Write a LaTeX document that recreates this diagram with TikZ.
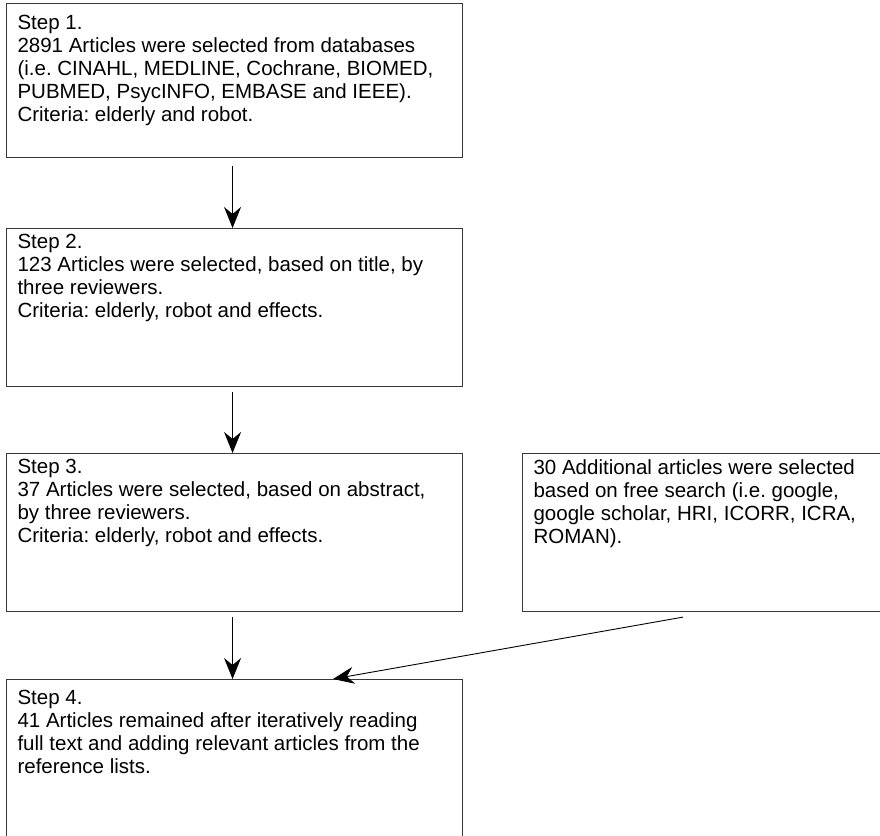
\documentclass[tikz,border=0pt]{standalone}
\usepackage{fontspec}
\setmainfont{Liberation Sans}
\frenchspacing
\usetikzlibrary{arrows.meta,calc}
\begin{document}
\begin{tikzpicture}[x=1pt,y=-1pt,
  box/.style={draw=black!78,line width=1.1pt,inner xsep=11pt,anchor=north west,
    font=\fontsize{20.5pt}{23pt}\selectfont},
  arr/.style={draw=black,line width=0.9pt,-{Stealth[length=21pt,width=17pt,inset=7pt]}}]
\useasboundingbox (0,0) rectangle (880,835);
\node[box,inner ysep=12pt] (b1) at (6,3) {\begin{minipage}[t][130pt][t]{434pt}\frenchspacing Step 1.\\
2891 Articles were selected from databases\\
(i.e. CINAHL, MEDLINE, Cochrane, BIOMED,\\
PUBMED, PsycINFO, EMBASE and IEEE).\\
Criteria: elderly and robot.\end{minipage}};
\node[box,inner ysep=6pt] (b2) at (6,228) {\begin{minipage}[t][146pt][t]{434pt}\frenchspacing Step 2.\\
123 Articles were selected, based on title, by\\
three reviewers.\\
Criteria: elderly, robot and effects.\end{minipage}};
\node[box,inner ysep=6pt] (b3) at (6,453) {\begin{minipage}[t][146pt][t]{434pt}\frenchspacing Step 3.\\
37 Articles were selected, based on abstract,\\
by three reviewers.\\
Criteria: elderly, robot and effects.\end{minipage}};
\node[box,inner ysep=11pt] (b4) at (6,679) {\begin{minipage}[t][148pt][t]{434pt}\frenchspacing Step 4.\\
41 Articles remained after iteratively reading\\
full text and adding relevant articles from the\\
reference lists.\end{minipage}};
\node[box,inner ysep=6pt] (b5) at (522,453) {\begin{minipage}[t][146pt][t]{356pt}\frenchspacing 30 Additional articles were selected\\
based on free search (i.e. google,\\
google scholar, HRI, ICORR, ICRA,\\
ROMAN).\end{minipage}};
\draw[arr] ($(b1.south)+(-2,8)$) -- ($(b2.north)+(-2,0)$);
\draw[arr] ($(b2.south)+(-2,5)$) -- ($(b3.north)+(-2,0)$);
\draw[arr] ($(b3.south)+(-2,5)$) -- ($(b4.north)+(-2,0)$);
\draw[arr] ($(b5.south west)+(161,5)$) -- ($(b4.north west)+(327,0)$);
\end{tikzpicture}
\end{document}
